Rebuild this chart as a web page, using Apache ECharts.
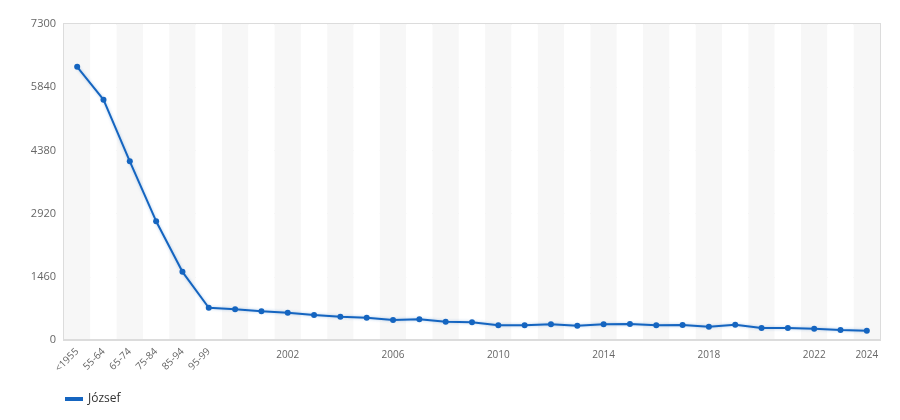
<!DOCTYPE html>
<html>
<head>
<meta charset="utf-8">
<script src="https://cdn.jsdelivr.net/npm/echarts@6/dist/echarts.min.js"></script>
<style>html,body{margin:0;padding:0;background:#fff}#c{width:900px;height:420px}</style>
</head>
<body>
<div id="c"></div>
<script>
const categories = ['<1955','55-64','65-74','75-84','85-94','95-99',
  '2000','2001','2002','2003','2004','2005','2006','2007','2008','2009',
  '2010','2011','2012','2013','2014','2015','2016','2017','2018','2019',
  '2020','2021','2022','2023','2024'];
const values = [6311,5551,4128,2744,1575,745,
  708,662,630,576,538,515,461,477,422,408,
  339,339,362,330,365,369,339,346,307,353,
  277,277,261,231,215];
const yTicks = {min:0, max:7300, interval:1460};
const seriesName = 'József';
const rotatedIdx = [0,1,2,3,4,5];
const yearIdx = [8,12,16,20,24,28,30];

const chart = echarts.init(document.getElementById('c'));
const font = 'Open Sans';
chart.setOption({
  animation:false,
  textStyle:{fontFamily:font},
  grid:{left:64,right:20,top:24,bottom:80,show:true,borderColor:'#dcdcdc',borderWidth:2,backgroundColor:'transparent'},
  legend:{left:60,bottom:10,icon:'rect',itemWidth:18,itemHeight:4,itemGap:10,
    textStyle:{color:'#333',fontSize:12,fontFamily:font},data:[seriesName]},
  xAxis:[{
    type:'category',data:categories,boundaryGap:true,position:'bottom',
    axisLine:{show:true,lineStyle:{color:'#dcdcdc',width:2}},
    axisTick:{show:false},
    splitArea:{show:true,interval:0,areaStyle:{color:['#f7f7f7','#ffffff']}},
    axisLabel:{rotate:45,interval:(i)=>rotatedIdx.indexOf(i)>=0,color:'#666',fontSize:10,margin:10,fontFamily:font}
  },{
    type:'category',data:categories,boundaryGap:true,position:'bottom',
    axisLine:{show:false},axisTick:{show:false},
    axisLabel:{rotate:0,interval:(i)=>yearIdx.indexOf(i)>=0,color:'#666',fontSize:10,margin:10,fontFamily:font}
  }],
  yAxis:{type:'value',min:yTicks.min,max:yTicks.max,interval:yTicks.interval,
    axisLine:{show:false},axisTick:{show:false},
    splitLine:{lineStyle:{color:'#e6e6e6',width:1}},
    axisLabel:{color:'#666',fontSize:11,margin:8,fontFamily:font,formatter:(v)=>String(v)}},
  series:[{
    name:seriesName,type:'line',data:values,xAxisIndex:0,
    symbol:'circle',symbolSize:6,
    itemStyle:{color:'#1565c0'},
    lineStyle:{color:'#1565c0',width:2,shadowColor:'rgba(21,101,192,0.35)',shadowBlur:3}
  }]
});
</script>
</body>
</html>
